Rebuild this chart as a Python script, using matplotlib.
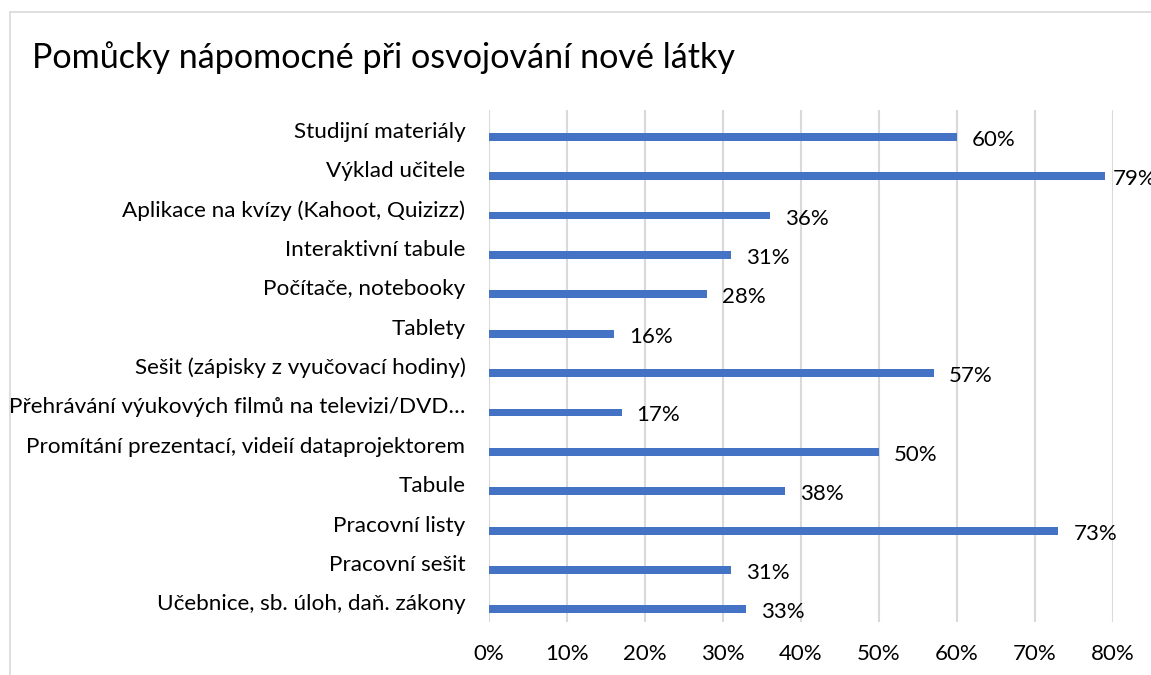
import matplotlib
matplotlib.use('Agg')
import matplotlib.pyplot as plt
from matplotlib.patches import Rectangle
import numpy as np

plt.rcParams['font.family'] = ['Lato', 'DejaVu Sans']

title = 'Pomůcky nápomocné při osvojování nové látky'
categories = ['Studijní materiály', 'Výklad učitele', 'Aplikace na kvízy (Kahoot, Quizizz)',
              'Interaktivní tabule', 'Počítače, notebooky', 'Tablety',
              'Sešit (zápisky z vyučovací hodiny)', 'Přehrávání výukových filmů na televizi/DVD…',
              'Promítání prezentací, videií dataprojektorem', 'Tabule', 'Pracovní listy',
              'Pracovní sešit', 'Učebnice, sb. úloh, daň. zákony']
values = [0.60, 0.79, 0.36, 0.31, 0.28, 0.16, 0.57, 0.17, 0.50, 0.38, 0.73, 0.31, 0.33]
xticks = [0, 0.1, 0.2, 0.3, 0.4, 0.5, 0.6, 0.7, 0.8]

W, H = 1151, 675
fig = plt.figure(figsize=(W / 100, H / 100), dpi=100)
ax = fig.add_axes([489 / W, 1 - 622 / H, (1113 - 489) / W, (622 - 110) / H])

# chart frame (cut off at right and bottom like the screenshot)
fig.patches.append(Rectangle((10 / W, -0.5), 2, 1.5 - 12 / H, transform=fig.transFigure,
                             fill=False, edgecolor='#d9d9d9', lw=1.2))

pos = np.arange(len(categories))
ax.barh(pos + 0.18, values, height=0.2, color='#4472C4', zorder=3)
for p, v in zip(pos, values):
    dx = 8 if v > 0.75 else 15
    ax.annotate(f'{v * 100:.0f}%', (v, p + 0.18), xytext=(dx, -3), textcoords='offset pixels',
                va='center', ha='left', fontsize=16, color='#000000', annotation_clip=False)

ax.set_xlim(0, 0.8)
ax.set_ylim(len(categories) - 0.5, -0.5)
ax.set_xticks(xticks)
ax.set_xticklabels([f'{t * 100:.0f}%' for t in xticks])
ax.set_yticks(pos)
ax.set_yticklabels(categories)
ax.tick_params(axis='both', length=0, colors='#000000')
ax.tick_params(axis='x', pad=16, labelsize=16)
ax.tick_params(axis='y', pad=17, labelsize=16.2)
ax.grid(axis='x', color='#d9d9d9', lw=1.5, zorder=0)
for s in ax.spines.values():
    s.set_visible(False)

fig.text(32 / W, 1 - 58 / H, title, fontsize=24.6, ha='left', va='center', color='#000000')

fig.savefig('out.png', dpi=100)
